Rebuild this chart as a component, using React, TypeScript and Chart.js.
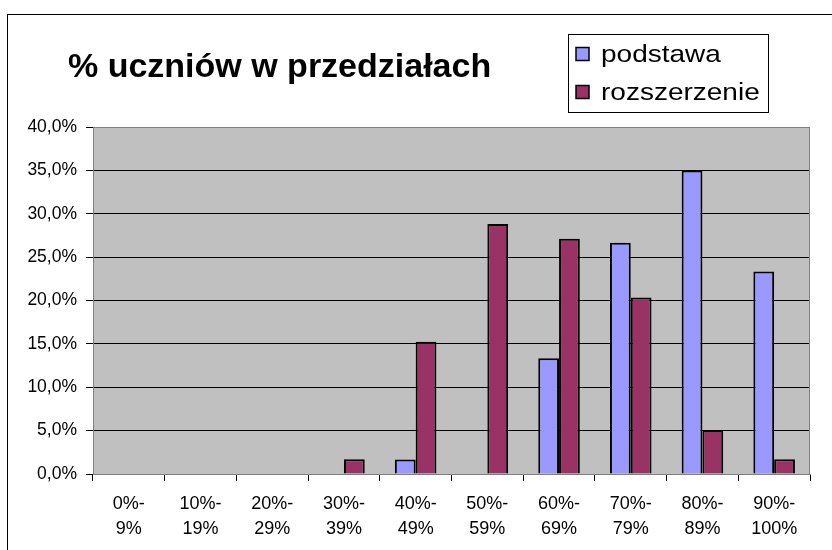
import React, { useEffect, useRef } from "react";
import { Chart, registerables } from "chart.js";

Chart.register(...registerables);

const categories: string[][] = [
  ["0%-", "9%"],
  ["10%-", "19%"],
  ["20%-", "29%"],
  ["30%-", "39%"],
  ["40%-", "49%"],
  ["50%-", "59%"],
  ["60%-", "69%"],
  ["70%-", "79%"],
  ["80%-", "89%"],
  ["90%-", "100%"],
];
const podstawa: number[] = [0, 0, 0, 0, 1.67, 0, 13.33, 26.67, 35.0, 23.33];
const rozszerzenie: number[] = [0, 0, 0, 1.69, 15.25, 28.81, 27.12, 20.34, 5.08, 1.69];
const titleText = "% uczniów w przedziałach";
const seriesNames = ["podstawa", "rozszerzenie"];
const seriesColors = ["#9999FF", "#993366"];

const FONT = "'Liberation Sans', Arial, sans-serif";

const decorPlugin = {
  id: "decor",
  beforeDraw(chart: any) {
    const { ctx, chartArea } = chart;
    ctx.save();
    ctx.fillStyle = "#ffffff";
    ctx.fillRect(0, 0, chart.width, chart.height);
    ctx.fillStyle = "#C0C0C0";
    ctx.fillRect(chartArea.left, chartArea.top, chartArea.right - chartArea.left, chartArea.bottom - chartArea.top);
    ctx.restore();
  },
  afterDraw(chart: any) {
    const { ctx, chartArea } = chart;
    ctx.save();
    ctx.strokeStyle = "#808080";
    ctx.lineWidth = 1;
    ctx.strokeRect(chartArea.left + 0.5, chartArea.top + 0.5, chartArea.right - chartArea.left - 1, chartArea.bottom - chartArea.top);
    ctx.strokeStyle = "#000000";
    ctx.strokeRect(7.5, 14.5, chart.width + 20, chart.height + 20);
    // title
    ctx.fillStyle = "#000";
    ctx.textBaseline = "alphabetic";
    ctx.textAlign = "left";
    ctx.font = `bold 34px ${FONT}`;
    ctx.fillText(titleText, 68, 77);
    // legend
    ctx.strokeStyle = "#000";
    ctx.strokeRect(568.5, 34.5, 200, 78);
    const rows = [47.5, 85.5];
    seriesNames.forEach((name, i) => {
      ctx.fillStyle = seriesColors[i];
      ctx.fillRect(576, rows[i], 13, 13);
      ctx.lineWidth = 1.5;
      ctx.strokeRect(576, rows[i], 13, 13);
      ctx.fillStyle = "#000";
      ctx.save();
      ctx.translate(601, rows[i] + 14);
      ctx.scale(1, 0.85);
      ctx.font = `28px ${FONT}`;
      ctx.fillText(name, 0, 0);
      ctx.restore();
    });
    ctx.restore();
  },
};

export default function App() {
  const ref = useRef<HTMLCanvasElement>(null);
  useEffect(() => {
    if (!ref.current) return;
    const chart = new Chart(ref.current, {
      type: "bar",
      data: {
        labels: categories,
        datasets: [
          {
            label: seriesNames[0],
            data: podstawa,
            backgroundColor: seriesColors[0],
            borderColor: "#000",
            borderWidth: 2,
            categoryPercentage: 0.58,
            barPercentage: 1,
          },
          {
            label: seriesNames[1],
            data: rozszerzenie,
            backgroundColor: seriesColors[1],
            borderColor: "#000",
            borderWidth: 2,
            categoryPercentage: 0.58,
            barPercentage: 1,
          },
        ],
      },
      options: {
        animation: false,
        responsive: false,
        maintainAspectRatio: false,
        layout: { padding: { top: 127, right: 22, left: 0, bottom: 0 } },
        plugins: { legend: { display: false }, title: { display: false }, tooltip: { enabled: false } },
        scales: {
          x: {
            grid: { drawOnChartArea: false, tickLength: 7, tickColor: "#000", offset: true },
            border: { color: "#808080" },
            ticks: { color: "#000", font: { family: FONT, size: 18, lineHeight: 1.39 }, padding: 11, maxRotation: 0, autoSkip: false },
            afterFit(scale: any) {
              scale.height = 550 - 474;
            },
          },
          y: {
            min: 0,
            max: 40,
            ticks: {
              stepSize: 5,
              color: "#000",
              font: { family: FONT, size: 17.5 },
              padding: 9,
              callback: (v: any) => Number(v).toFixed(1).replace(".", ",") + "%",
            },
            grid: { color: "#000", tickLength: 7, tickColor: "#000" },
            border: { color: "#808080" },
            afterFit(scale: any) {
              scale.width = 93;
            },
          },
        },
      },
      plugins: [decorPlugin],
    });
    return () => chart.destroy();
  }, []);
  return (
    <div style={{ position: "fixed", left: 0, top: 0, width: 832, height: 550 }}>
      <canvas ref={ref} width={832} height={550} style={{ width: 832, height: 550, display: "block" }} />
    </div>
  );
}
